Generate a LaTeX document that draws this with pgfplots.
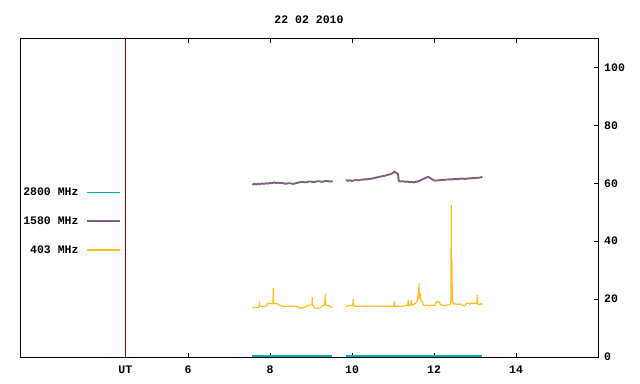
\documentclass[border=0pt]{standalone}
\usepackage{fontspec}
\setmainfont{Liberation Mono}
\usepackage{pgfplots}
\pgfplotsset{compat=1.18}
\definecolor{c2800}{RGB}{0,176,186}
\definecolor{c1580}{RGB}{125,95,128}
\definecolor{c403}{RGB}{255,190,30}
\definecolor{utred}{RGB}{139,0,0}
\newcommand\lab{\fontsize{11.5bp}{13bp}\selectfont\bfseries}
\begin{document}
\begin{tikzpicture}
\useasboundingbox (-20bp,-27bp) rectangle (620bp,357bp);
\begin{axis}[
 scale only axis, width=578bp, height=318.5bp,
 at={(0,0)}, anchor=south west,
 xmin=1.9, xmax=16, ymin=0, ymax=110,
 xtick={4.47,6,8,10,12,14}, xticklabels={UT,6,8,10,12,14},
 ytick={0,20,40,60,80,100},
 xtick pos=both, ytick pos=right, yticklabel pos=right,
 tick align=inside, major tick length=4.5bp,
 tick style={black, line width=0.8bp},
 axis line style={line width=0.8bp},
 /pgf/number format/assume math mode=true,
 tick label style={font=\lab},
 xticklabel style={anchor=north, inner sep=0pt, yshift=-9bp},
 yticklabel style={anchor=west, inner sep=0pt, xshift=6bp},
 title={22 02 2010},
 title style={font=\lab, at={(0.5,1)}, anchor=center, yshift=13bp, inner sep=0pt},
 unbounded coords=jump,
 legend plot pos=right, legend cell align=right,
 legend style={at={(rel axis cs:0.1747,0.532)}, anchor=north east, draw=none, fill=none,
   inner sep=0pt, row sep=19.6bp, column sep=8bp, nodes={inner sep=0pt, font=\lab}},
 legend image code/.code={\draw[#1, line width=1.3bp] (0bp,0bp) -- (33bp,0bp);},
]
\addplot[forget plot, utred, line width=0.8bp] coordinates {(4.47,0) (4.47,110)};
% 2800 MHz
\addplot[c2800, line width=2bp] coordinates {
(7.567,0.5) (9.518,0.5) (9.52,nan) (9.851,0.5) (13.176,0.5)};
\addlegendentry{2800 MHz}
% 1580 MHz
\addplot[c1580, line width=1.9bp] coordinates {
(7.57,59.5) (7.62,59.8) (7.66,59.6) (7.7,59.8) (7.75,59.7) (7.8,59.9) (7.85,59.8) (7.9,60.0) (7.95,59.9) (8.0,60.1) (8.05,60.0) (8.1,60.3) (8.15,60.1) (8.2,60.2) (8.25,60.1) (8.3,60.1) (8.35,59.9) (8.4,59.9) (8.45,60.0) (8.5,60.0) (8.55,59.8) (8.6,59.9) (8.65,60.1) (8.7,60.3) (8.75,60.4) (8.8,60.5) (8.85,60.3) (8.9,60.4) (8.95,60.6) (9.0,60.6) (9.05,60.4) (9.1,60.5) (9.15,60.7) (9.2,60.7) (9.25,60.5) (9.3,60.6) (9.35,60.8) (9.4,60.8) (9.45,60.6) (9.5,60.7) (9.52,60.5)
(9.6,nan)
(9.85,61.1) (9.9,60.9) (9.95,61.0) (10.0,60.8) (10.05,61.0) (10.1,61.1) (10.15,61.0) (10.2,61.2) (10.25,61.2) (10.3,61.4) (10.35,61.3) (10.4,61.5) (10.45,61.5) (10.5,61.7) (10.55,61.8) (10.6,62.0) (10.65,62.2) (10.7,62.3) (10.75,62.5) (10.8,62.6) (10.85,62.8) (10.9,63.0) (10.95,63.2) (11.0,63.6) (11.03,64.0) (11.08,63.6) (11.12,63.2) (11.14,60.8) (11.2,60.6) (11.25,60.7) (11.3,60.5) (11.35,60.6) (11.4,60.4) (11.45,60.5) (11.5,60.3) (11.55,60.5) (11.6,60.6) (11.65,60.9) (11.7,61.2) (11.75,61.6) (11.8,61.9) (11.85,62.2) (11.9,61.9) (11.95,61.4) (12.0,61.0) (12.05,60.9) (12.1,61.0) (12.15,61.1) (12.2,61.2) (12.25,61.1) (12.3,61.3) (12.35,61.3) (12.4,61.4) (12.45,61.3) (12.5,61.5) (12.55,61.4) (12.6,61.5) (12.65,61.6) (12.7,61.6) (12.75,61.5) (12.8,61.6) (12.85,61.7) (12.9,61.7) (12.95,61.8) (13.0,61.8) (13.05,61.9) (13.1,61.9) (13.15,62.1) (13.18,62.2)};
\addlegendentry{1580 MHz}
% 403 MHz
\addplot[c403, line width=1.2bp] coordinates {
(7.567,17.0) (7.632,17.0) (7.713,17.1) (7.730,17.5) (7.737,18.2) (7.744,17.5) (7.754,17.5) (7.835,17.5) (7.916,17.6) (7.933,18.4) (7.998,18.5) (8.063,18.3) (8.071,18.6) (8.079,23.8) (8.087,18.6) (8.095,18.5) (8.160,18.5) (8.225,17.9) (8.323,17.5) (8.445,17.5) (8.567,17.5) (8.648,17.5) (8.689,17.1) (8.729,16.8) (8.770,17.1) (8.790,16.8) (8.811,17.1) (8.851,17.2) (8.933,17.9) (9.014,18.0) (9.022,18.3) (9.030,20.7) (9.038,18.2) (9.046,17.7) (9.095,16.8) (9.152,16.8) (9.217,17.0) (9.282,17.7) (9.323,18.0) (9.331,19.8) (9.339,18.5) (9.347,21.9) (9.355,18.2) (9.363,17.8) (9.420,17.8) (9.461,17.6) (9.500,17.1) (9.518,17.1)
(9.6,nan)
(9.851,17.4) (9.908,17.7) (9.989,17.7) (10.014,18.0) (10.022,18.4) (10.030,20.0) (10.038,18.0) (10.046,17.6) (10.111,17.5) (10.274,17.5) (10.437,17.6) (10.600,17.5) (10.762,17.5) (10.925,17.5) (11.014,17.5) (11.022,17.6) (11.030,19.3) (11.038,17.6) (11.046,17.5) (11.168,17.5) (11.290,17.6) (11.355,17.8) (11.363,18.2) (11.371,19.7) (11.379,18.3) (11.388,17.8) (11.429,18.0) (11.437,18.3) (11.445,19.7) (11.453,18.2) (11.461,17.9) (11.510,18.2) (11.559,18.6) (11.583,19.2) (11.600,20.6) (11.608,19.6) (11.616,22.3) (11.624,20.5) (11.632,25.5) (11.640,21.0) (11.648,22.3) (11.656,20.0) (11.664,21.9) (11.680,19.5) (11.697,19.3) (11.717,19.0) (11.737,18.0) (11.780,17.7) (11.819,17.9) (11.880,17.7) (11.941,17.9) (12.022,17.8) (12.045,18.6) (12.063,19.2) (12.100,19.0) (12.128,19.0) (12.150,18.3) (12.185,17.9) (12.250,17.8) (12.307,17.9) (12.380,18.0) (12.404,18.2) (12.412,19.5) (12.420,52.5) (12.428,20.0) (12.437,33.1) (12.445,20.5) (12.453,19.1) (12.480,18.4) (12.510,18.3) (12.570,18.2) (12.632,18.3) (12.700,17.9) (12.754,17.7) (12.790,18.5) (12.835,18.6) (12.880,18.3) (12.920,18.7) (12.957,18.4) (13.000,18.6) (13.038,18.5) (13.047,19.0) (13.055,21.4) (13.063,18.9) (13.071,18.3) (13.120,18.2) (13.150,18.5) (13.176,18.1)};
\addlegendentry{403 MHz}
\end{axis}
\end{tikzpicture}
\end{document}
